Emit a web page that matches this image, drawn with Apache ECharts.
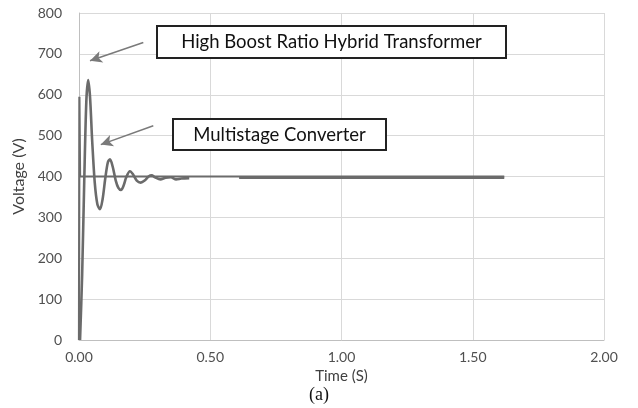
<!DOCTYPE html>
<html>
<head>
<meta charset="utf-8">
<script src="https://cdn.jsdelivr.net/npm/echarts@6/dist/echarts.min.js"></script>
<style>html,body{margin:0;padding:0;background:#fff;}#c{width:638px;height:408px;}</style>
</head>
<body>
<div id="c"></div>
<script>
// Data (time in s, voltage in V)
const hybridTransformer = [[0,0],[0.0015,595],[0.004,400],[0.3,400],[0.61,400],[1.62,400]];
const multistageConverter = [
  [0.004,0],[0.012,160],[0.02,390],[0.028,585],[0.035,636],[0.042,595],[0.05,490],[0.06,385],
  [0.07,332],[0.08,320],[0.09,345],[0.1,395],[0.11,435],[0.118,442],[0.128,425],[0.14,390],
  [0.15,372],[0.16,367],[0.17,378],[0.18,398],[0.194,413],[0.205,406],[0.22,390],[0.235,385],
  [0.25,390],[0.265,400],[0.277,403],[0.29,398],[0.31,393],[0.33,397],[0.35,398],[0.37,393],
  [0.39,395],[0.42,396],[null,null],[0.61,397],[1.62,397]
];
const yTicks = {min:0, max:800, interval:100};
const xTicks = {min:0, max:2, interval:0.5};
const labelHybrid = 'High Boost Ratio Hybrid Transformer';
const labelMulti = 'Multistage Converter';
const arrowHybrid = [[0.245,728],[0.042,683]];
const arrowMulti = [[0.283,524],[0.083,478]];

const chart = echarts.init(document.getElementById('c'));
const lineColor = '#6b6b6b';
const gridColor = '#d9d9d9';
const tickFont = 'Lato, "Open Sans", sans-serif';

function arrow(pts){
  return {
    silent:true, symbol:['none','arrow'], symbolSize:[9,12],
    label:{show:false},
    lineStyle:{color:'#7a7a7a', width:1.5, type:'solid'},
    data:[[{coord:pts[0]},{coord:pts[1]}]]
  };
}

chart.setOption({
  animation:false,
  grid:{left:79, right:34, top:13, bottom:68},
  xAxis:{
    type:'value', min:xTicks.min, max:xTicks.max, interval:xTicks.interval,
    name:'Time (S)', nameLocation:'middle', nameGap:27,
    nameTextStyle:{color:'#404040', fontSize:15, fontFamily:tickFont},
    axisLine:{show:true, lineStyle:{color:'#bfbfbf'}},
    axisTick:{show:false},
    axisLabel:{color:'#505050', fontSize:14, fontFamily:tickFont, margin:10,
      formatter:v=>v.toFixed(2)},
    splitLine:{show:true, lineStyle:{color:gridColor, width:1}}
  },
  yAxis:{
    type:'value', min:yTicks.min, max:yTicks.max, interval:yTicks.interval,
    name:'Voltage (V)', nameLocation:'middle', nameGap:48, nameRotate:90,
    nameTextStyle:{color:'#404040', fontSize:16, fontFamily:tickFont},
    axisLine:{show:true, lineStyle:{color:'#bfbfbf'}},
    axisTick:{show:false},
    axisLabel:{color:'#505050', fontSize:14, fontFamily:tickFont, margin:17},
    splitLine:{show:true, lineStyle:{color:gridColor, width:1}}
  },
  series:[
    {
      name:labelHybrid, type:'line', data:hybridTransformer, showSymbol:false,
      lineStyle:{color:lineColor, width:2.2}, itemStyle:{color:lineColor},
      markLine:arrow(arrowHybrid)
    },
    {
      name:labelMulti, type:'line', data:multistageConverter, showSymbol:false, smooth:0.3,
      connectNulls:false,
      lineStyle:{color:lineColor, width:2.6}, itemStyle:{color:lineColor},
      markLine:arrow(arrowMulti)
    }
  ],
  graphic:[
    {type:'group', left:156, top:25, z:100, children:[
      {type:'rect', z:100, shape:{x:0,y:0,width:349,height:32}, style:{fill:'#fff', stroke:'#222', lineWidth:2}},
      {type:'text', z:101, x:174.5, y:16, style:{text:labelHybrid, fill:'#111', fontSize:18.5, fontFamily:tickFont, align:'center', verticalAlign:'middle'}}
    ]},
    {type:'group', left:172, top:118, z:100, children:[
      {type:'rect', z:100, shape:{x:0,y:0,width:213,height:31}, style:{fill:'#fff', stroke:'#222', lineWidth:2}},
      {type:'text', z:101, x:106.5, y:16, style:{text:labelMulti, fill:'#111', fontSize:18.5, fontFamily:tickFont, align:'center', verticalAlign:'middle'}}
    ]},
    {type:'text', left:'center', top:386, style:{text:'(a)', fill:'#111', fontSize:18, fontFamily:'"Liberation Serif", "DejaVu Serif", serif'}}
  ]
});
</script>
</body>
</html>
